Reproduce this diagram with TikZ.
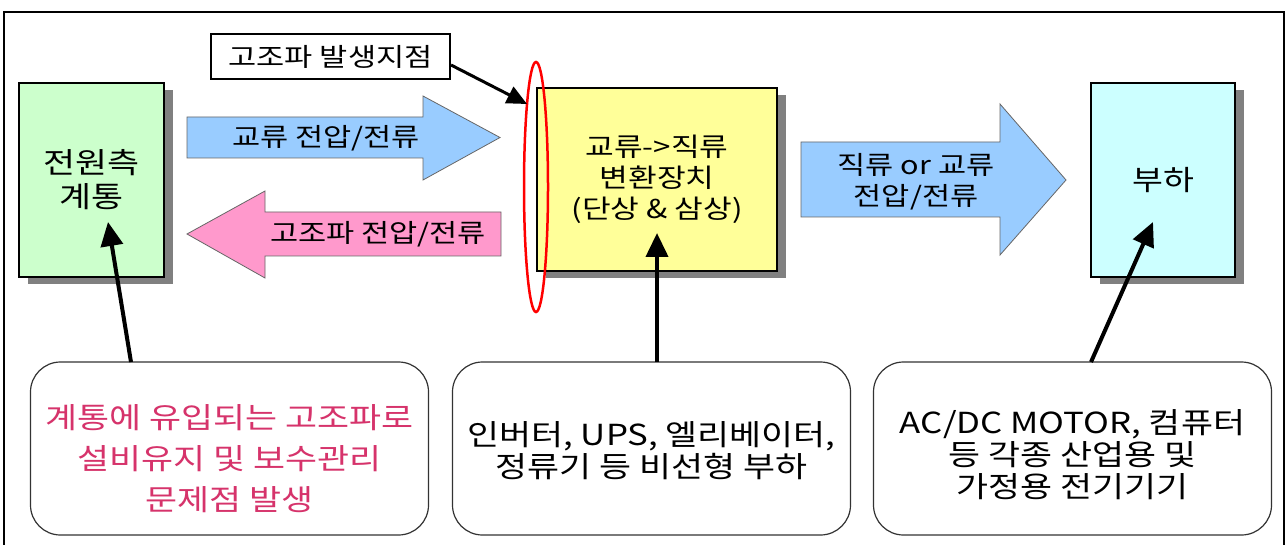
\documentclass[tikz,border=0pt]{standalone}
\usepackage{fontspec}
\setmainfont{Noto Sans CJK KR}[FakeStretch=1.2]
\usetikzlibrary{arrows.meta,shadows}
\definecolor{boxgreen}{HTML}{CCFFCC}
\definecolor{boxyellow}{HTML}{FFFF99}
\definecolor{boxcyan}{HTML}{CCFFFF}
\definecolor{arrblue}{HTML}{99CCFF}
\definecolor{arrpink}{HTML}{FF99CC}
\definecolor{txtred}{HTML}{D6336B}
\definecolor{shadowgray}{HTML}{808080}
\tikzset{
  mainbox/.style={draw=black, line width=1.3pt, inner sep=0pt, align=center,
    drop shadow={shadow xshift=9pt, shadow yshift=-7pt, fill=shadowgray, opacity=1}},
  notebox/.style={draw=black!80, line width=1.2pt, rounded corners=30pt, fill=white,
    minimum width=398pt, minimum height=173pt, inner sep=0pt},
  blockarrow/.style={draw=black!60, line width=0.8pt},
  ftop/.style={font=\fontsize{25.5}{31}\selectfont, align=center},
  fbot/.style={font=\fontsize{29}{32}\selectfont, align=center},
  conn/.style={line width=4pt, -{Triangle[length=24pt,width=22pt]}},
  pointer/.style={line width=3pt, -{Triangle[length=20pt,width=18pt]}},
}
\begin{document}
\begin{tikzpicture}[x=1pt,y=-1pt]
\useasboundingbox (0,0) rectangle (1287,545);
\fill[white] (0,0) rectangle (1287,545);
% outer frame
\draw[line width=2pt] (4,560) -- (4,12) -- (1284,12) -- (1284,560);

% main boxes
\node[mainbox, fill=boxgreen, minimum width=145pt, minimum height=194pt,
  font=\fontsize{29}{34}\selectfont] (src) at (91.5,180) {전원측\\계통};
\node[mainbox, fill=boxyellow, minimum width=240pt, minimum height=183pt,
  font=\fontsize{26}{31}\selectfont] (conv) at (657,179.5) {교류->직류\\변환장치\\(단상 \& 삼상)};
\node[mainbox, fill=boxcyan, minimum width=144pt, minimum height=194pt,
  font=\fontsize{28}{31}\selectfont] (load) at (1163,180) {부하};

% title box
\node[draw=black, line width=1.2pt, fill=white, minimum width=239pt, minimum height=45pt,
  inner sep=0pt, ftop] (title) at (330.5,56.5) {고조파 발생지점};

% red ellipse
\draw[red, line width=2.5pt] (536,187) ellipse [x radius=12, y radius=125];
\coordinate (ptip) at (527,104);
\coordinate (ptail) at (451,65);
\draw[pointer] (ptail) -- (ptip);

% block arrows
\draw[blockarrow, fill=arrblue] (187,117) -- (423,117) -- (423,96) -- (500,137.5)
  -- (423,180) -- (423,158) -- (187,158) -- cycle;
\node[ftop] (acl) at (326,138) {교류 전압/전류};

\draw[blockarrow, fill=arrpink] (501,212) -- (265,212) -- (265,191) -- (187,234)
  -- (265,278) -- (265,256) -- (501,256) -- cycle;
\node[ftop] (hml) at (378,234) {고조파 전압/전류};

\draw[blockarrow, fill=arrblue] (801,142) -- (1000,142) -- (1000,104) -- (1066,180)
  -- (1000,255) -- (1000,217) -- (801,217) -- cycle;
\node[ftop] (dcl) at (916,181.5) {직류 or 교류\\전압/전류};

% bottom note boxes
\node[notebox] (n1) at (229.5,448.5) {};
\node[fbot, text=txtred, font=\fontsize{29}{41}\selectfont] (n1t) at (229.5,459) {계통에 유입되는 고조파로\\설비유지 및 보수관리\\문제점 발생};
\node[notebox] (n2) at (651.5,448.5) {};
\node[fbot] (n2t) at (651.5,451) {인버터, UPS, 엘리베이터,\\정류기 등 비선형 부하};
\node[notebox] (n3) at (1072.5,448.5) {};
\node[fbot] (n3t) at (1072.5,454.5) {AC/DC MOTOR, 컴퓨터\\등 각종 산업용 및\\가정용 전기기기};

% connectors from notes to boxes
\coordinate (a1s) at (131,362);
\coordinate (a1e) at (108,222);
\coordinate (a2s) at (657,362);
\coordinate (a2e) at (657,233);
\coordinate (a3s) at (1091,362);
\coordinate (a3e) at (1153,222);
\draw[conn] (a1s) -- (a1e);
\draw[conn] (a2s) -- (a2e);
\draw[conn] (a3s) -- (a3e);
\end{tikzpicture}
\end{document}
